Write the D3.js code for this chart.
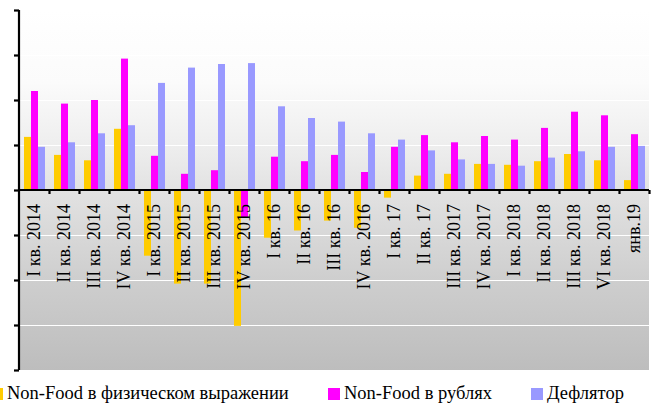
<!DOCTYPE html>
<html><head><meta charset="utf-8">
<script src="https://cdn.jsdelivr.net/npm/d3@7"></script>
<style>body{margin:0;background:#fff}svg{display:block}</style>
</head><body><svg id="c" width="654" height="405"></svg>
<script>
const categories = ["I кв. 2014","II кв. 2014","III кв. 2014","IV кв. 2014","I кв. 2015","II кв. 2015","III кв. 2015","IV кв. 2015","I кв. 16","II кв. 16","III кв. 16","IV кв. 2016","I кв. 17","II кв. 17","III кв. 2017","IV кв. 2017","I кв. 2018","II кв. 2018","III кв. 2018","VI кв. 2018","янв.19"];
const seriesNames = ["Non-Food в физическом выражении","Non-Food в рублях","Дефлятор"];
const physical = [5.9,3.9,3.3,6.8,-7.3,-10.4,-10.4,-15.1,-5.3,-4.5,-3.4,-4.2,-0.85,1.6,1.8,2.9,2.8,3.2,4.0,3.3,1.1];
const rubles   = [11.0,9.6,10.0,14.6,3.8,1.8,2.2,-3.1,3.7,3.2,3.9,2.0,4.8,6.1,5.3,6.0,5.6,6.9,8.7,8.3,6.2];
const deflator = [4.8,5.3,6.3,7.2,11.9,13.6,14.0,14.1,9.3,8.0,7.6,6.3,5.6,4.4,3.4,2.9,2.7,3.6,4.3,4.8,4.9];
const yTicks = [-20,-15,-10,-5,0,5,10,15,20];
const colors = ["#FFCC00","#FF00FF","#9999FF"];

const svg = d3.select("#c");
const L=19, R=649, T=10, B=370;
const x = d3.scaleBand().domain(categories).range([L,R]).paddingInner(0).paddingOuter(0);
const y = d3.scaleLinear().domain([-20,20]).range([B,T]);
const xs = d3.scaleBand().domain([0,1,2]).range([5,26]);

const defs = svg.append("defs");
const g = defs.append("linearGradient").attr("id","bg").attr("x1",0).attr("y1",0).attr("x2",0).attr("y2",1);
[[0,"#ffffff"],[0.2,"#fbfbfb"],[0.4,"#ececec"],[0.5,"#e2e2e2"],[0.75,"#cecece"],[1,"#bdbdbd"]].forEach(s=>g.append("stop").attr("offset",s[0]).attr("stop-color",s[1]));
svg.append("rect").attr("x",L).attr("y",T).attr("width",R-L).attr("height",B-T).attr("fill","url(#bg)");

// gridlines
svg.append("g").selectAll("line").data(yTicks.filter(d=>d!==0)).join("line")
  .attr("x1",L).attr("x2",R).attr("y1",d=>Math.round(y(d))+0.5).attr("y2",d=>Math.round(y(d))+0.5)
  .attr("stroke","#ffffff").attr("stroke-width",1.2);

const all = [physical,rubles,deflator];
all.forEach((arr,si)=>{
  svg.append("g").selectAll("rect").data(arr).join("rect")
    .attr("x",(d,i)=>x(categories[i])+xs(si))
    .attr("width",xs.bandwidth())
    .attr("y",d=>y(Math.max(0,d)))
    .attr("height",d=>Math.abs(y(d)-y(0)))
    .attr("fill",colors[si]);
});

// labels
svg.append("g").selectAll("text").data(categories).join("text")
  .attr("transform",d=>`translate(${x(d)+x.bandwidth()/2+6},204) rotate(-90)`)
  .attr("text-anchor","end")
  .attr("font-family","'Liberation Serif','Times New Roman',serif")
  .attr("font-size",18).attr("fill","#000").text(d=>d);

// y axis
const yAxis = d3.axisLeft(y).tickValues(yTicks).tickSize(5).tickFormat("");
const ya = svg.append("g").attr("transform",`translate(${L},0)`).call(yAxis);
ya.selectAll("path,line").attr("stroke","#000").attr("stroke-width",2.2);
ya.select(".domain").attr("d",`M0,${T}V${B}`);

// x axis at zero
const xb = d3.scaleLinear().domain([0,categories.length]).range([L,R]);
const xa = svg.append("g").attr("transform",`translate(0,${y(0)})`)
  .call(d3.axisBottom(xb).tickValues(d3.range(1,categories.length+1)).tickSize(4).tickSizeOuter(0).tickFormat(""));
xa.selectAll("path,line").attr("stroke","#000").attr("stroke-width",2.2);
xa.select(".domain").attr("d",`M${L},0H${R}`);

// legend
const legX = [0,328,531];
const lg = svg.append("g").selectAll("g").data(seriesNames).join("g")
  .attr("transform",(d,i)=>`translate(${legX[i]},388)`);
lg.append("rect").attr("x",(d,i)=>i===0?-9:0).attr("width",12).attr("height",12).attr("fill",(d,i)=>colors[i]);
lg.append("text").attr("x",(d,i)=>i===0?7:16).attr("y",11)
  .attr("font-family","'Liberation Serif','Times New Roman',serif").attr("font-size",18.5).attr("fill","#000").text(d=>d);
</script></body></html>
